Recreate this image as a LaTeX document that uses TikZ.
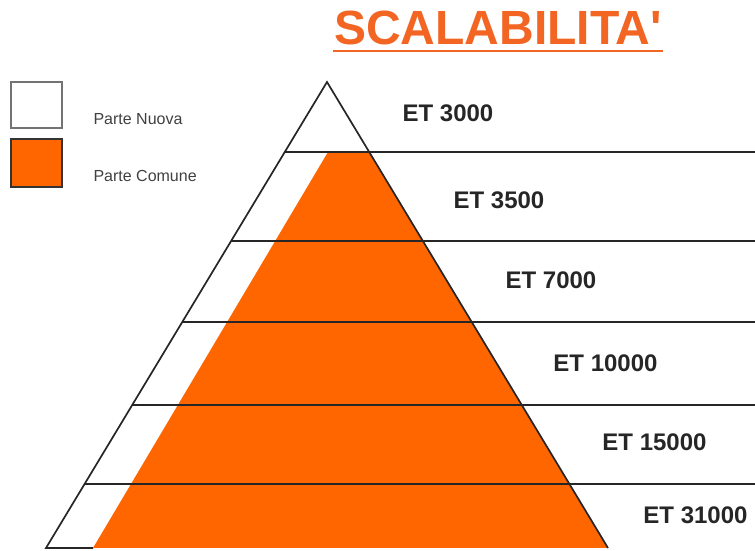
\documentclass[tikz,border=0pt]{standalone}
\usepackage{fontspec}
\setmainfont{Liberation Sans}
\usetikzlibrary{calc}
\definecolor{comune}{RGB}{255,102,0}
\definecolor{titolo}{RGB}{242,101,34}
\tikzset{
  tier/.style={draw=black!85, line width=1.7pt},
  etlabel/.style={font=\fontsize{24}{24}\selectfont\bfseries, text=black!85},
  legendbox/.style={draw, line width=1.2pt}
}
\begin{document}
\begin{tikzpicture}[x=1pt,y=1pt]
\useasboundingbox (0,0) rectangle (755,551);
% title
\node (title) at (498,523.5) {\textcolor{titolo}{\fontsize{48}{48}\selectfont\bfseries SCALABILITA\textquotesingle}};
\draw[titolo, line width=2.5pt] (333,500) -- (663,500);
% legend
\draw[legendbox, draw=black!55, fill=white] (11,469) rectangle (62,423);
\draw[legendbox, draw=black!80, fill=comune] (11,412) rectangle (62,364);
\node[anchor=west, font=\fontsize{16}{16}\selectfont, text=black!75] (nuova) at (90,432) {Parte Nuova};
\node[anchor=west, font=\fontsize{16}{16}\selectfont, text=black!75] (comune) at (90,375) {Parte Comune};
% pyramid
\coordinate (apex) at (327,469);
\coordinate (bl) at (46,3);
\coordinate (br) at (608,3);
\fill[comune] (328,399) -- (369,399) -- (br) -- (93,3) -- cycle;
\draw[tier, line join=miter] (br) -- (apex) -- (bl) -- (93,3);
\foreach \y in {399,310,229,146,67}
\draw[tier] ($(apex)!{(469-\y)/466}!(bl)$) -- (755,\y);
% versions
\node[etlabel] (et1) at (448,437.5) {ET 3000};
\node[etlabel] (et2) at (499,351) {ET 3500};
\node[etlabel] (et3) at (551,271) {ET 7000};
\node[etlabel] (et4) at (605.5,188) {ET 10000};
\node[etlabel] (et5) at (654.5,109) {ET 15000};
\node[etlabel] (et6) at (695.5,36) {ET 31000};
\end{tikzpicture}
\end{document}
